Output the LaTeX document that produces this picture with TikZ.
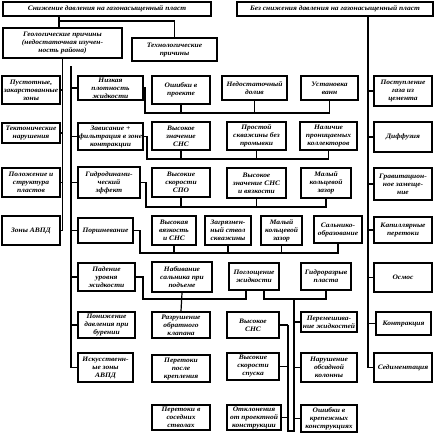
\documentclass[tikz,border=0pt]{standalone}
\usepackage{fontspec}
\setmainfont{Liberation Serif}[FakeStretch=1.1]
\newcommand\nbox[6]{\node[box,minimum width={#3pt-#2pt},minimum height={#5pt-#4pt}] (#1) at ({(#2+#3)/2},{(#4+#5)/2}) {#6};}
\begin{document}
\begin{tikzpicture}[x=1pt,y=-1pt,
 box/.style={draw,line width=1.8pt,fill=white,inner sep=0pt,align=center,font=\bfseries\itshape\fontsize{6.8}{8}\selectfont},
 ln/.style={line width=1.2pt}]
\useasboundingbox[fill=white] (0,0) rectangle (434,434);
% top level
\nbox{top}{3}{211}{2}{16}{Снижение давления на газонасыщенный пласт}
\nbox{topR}{237}{433}{2}{16}{Без снижения давления на газонасыщенный пласт}
\nbox{geo}{3}{122}{28}{58}{Геологические причины\\(недостаточная изучен-\\ность района)}
\nbox{tech}{132}{217}{38}{61}{Технологические\\причины}
% geological column
\nbox{g1}{2}{60}{76}{104}{Пустотные,\\закарстованные\\зоны}
\nbox{g2}{2}{60}{123}{143}{Тектонические\\нарушения}
\nbox{g3}{2}{60}{168}{197}{Положение и\\структура\\пластов}
\nbox{g4}{2}{60}{216}{245}{Зоны АВПД}
% technological column
\nbox{t1}{78}{143}{76}{100}{Низкая\\плотность\\жидкости}
\nbox{t2}{78}{143}{123}{150}{Зависание +\\фильтрация в зоне\\контракции}
\nbox{t3}{78}{140}{167}{198}{Гидродинами-\\ческий\\эффект}
\nbox{t4}{78}{133}{218}{243}{Поршневание}
\nbox{t5}{78}{135}{263}{291}{Падение\\уровня\\жидкости}
\nbox{t6}{78}{135}{312}{338}{Понижение\\давления при\\бурении}
\nbox{t7}{78}{133}{353}{382}{Искусственн-\\ые зоны\\АВПД}
% column 2
\nbox{c1}{152}{210}{76}{104}{Ошибки в\\проекте}
\nbox{c2}{152}{210}{122}{150}{Высокое\\значение\\СНС}
\nbox{c3}{152}{210}{168}{197}{Высокие\\скорости\\СПО}
\nbox{c4}{152}{196}{216}{245}{Высокая\\вязкость\\и СНС}
\nbox{c5}{152}{212}{262}{292}{Набивание\\сальника при\\подъеме}
\nbox{c6}{152}{210}{312}{338}{Разрушение\\обратного\\клапана}
\nbox{c7}{152}{210}{355}{382}{Перетоки\\после\\крепления}
\nbox{c8}{152}{210}{405}{430}{Перетоки в\\соседних\\стволах}
% column 3
\nbox{d1}{222}{287}{76}{100}{Недостаточный\\долив}
\nbox{d2}{227}{286}{122}{150}{Простой\\скважины без\\промывки}
\nbox{d3}{227}{286}{168}{198}{Высокое\\значение СНС\\и вязкости}
\nbox{d4}{205}{251}{216}{245}{Загрязнен-\\ный ствол\\скважины}
\nbox{d5}{261}{302}{216}{245}{Малый\\кольцевой\\зазор}
\nbox{d6}{314}{362}{216}{243}{Сальнико-\\образование}
\nbox{d7}{229}{279}{263}{290}{Поглощение\\жидкости}
\nbox{d8}{301}{351}{263}{290}{Гидроразрыв\\пласта}
% column 4
\nbox{e1}{301}{358}{76}{100}{Установка\\ванн}
\nbox{e2}{300}{357}{122}{150}{Наличие\\проницаемых\\коллекторов}
\nbox{e3}{301}{351}{168}{198}{Малый\\кольцевой\\зазор}
% lower middle
\nbox{f1}{227}{279}{312}{338}{Высокое\\СНС}
\nbox{f2}{227}{279}{353}{380}{Высокие\\скорости\\спуска}
\nbox{f3}{227}{281}{405}{430}{Отклонения\\от проектной\\конструкции}
\nbox{f4}{301}{357}{312}{332}{Перемешива-\\ние жидкостей}
\nbox{f5}{301}{357}{353}{382}{Нарушение\\обсадной\\колонны}
\nbox{f6}{301}{357}{405}{432}{Ошибки в\\крепежных\\конструкциях}
% right column
\nbox{r1}{374}{432}{76}{106}{Поступление\\газа из\\цемента}
\nbox{r2}{374}{432}{122}{152}{Диффузия}
\nbox{r3}{374}{432}{168}{200}{Гравитацион-\\ное замеще-\\ние}
\nbox{r4}{374}{432}{217}{243}{Капиллярные\\перетоки}
\nbox{r5}{374}{432}{263}{292}{Осмос}
\nbox{r6}{376}{431}{312}{335}{Контракция}
\nbox{r7}{374}{432}{353}{382}{Седиментация}
% top connectors
\coordinate (j1) at (59,21);
\draw[ln] (top.south -| j1) -- (geo.north -| j1);
\draw[ln] (j1) -| (tech.north);
% right trunk
\coordinate (rt) at (368,16);
\draw[ln] (topR.south -| rt) |- (r7.west);
\foreach \n in {r1,r2,r3,r4,r5,r6} {\draw[ln] (\n.west -| rt) -- (\n.west);}
% geological trunk
\draw[ln] (geo.south) |- (g4.east);
\foreach \n in {g1,g2,g3} {\draw[ln] (\n.east) -- (\n.east -| geo.south);}
% technological trunk
\coordinate (tt) at (71,66);
\draw[ln] (tt) |- (t7.west);
\foreach \n in {t1,t2,t3,t4,t5,t6} {\draw[ln] (\n.west -| tt) -- (\n.west);}
% row buses
\coordinate (b1) at (145,113);
\draw[ln] (t1.east) -| (b1) -| (e1.south);
\draw[ln] (c1.south) -- (c1.south |- b1);
\draw[ln] (d1.south) -- (d1.south |- b1);
\coordinate (b2) at (147,159);
\draw[ln] (t2.east) -| (b2) -| (e2.south);
\draw[ln] (c2.south) -- (c2.south |- b2);
\draw[ln] (d2.south) -- (d2.south |- b2);
\coordinate (b3) at (146,207);
\draw[ln] (t3.east) -| (b3) -| (e3.south);
\draw[ln] (c3.south) -- (c3.south |- b3);
\draw[ln] (d3.south) -- (d3.south |- b3);
\coordinate (b4) at (140,253);
\draw[ln] (t4.east) -| (b4) -| (d6.south);
\draw[ln] (c4.south) -- (c4.south |- b4);
\draw[ln] (d4.south) -- (d4.south |- b4);
\draw[ln] (d5.south) -- (d5.south |- b4);
\coordinate (b5) at (143,299);
\coordinate (q2) at (246,299);
\draw[ln] (t5.east) -| (b5) -- (q2) -- (q2 |- d7.south);
\draw[ln] (c5.south) -- (c6.north);
\coordinate (q1) at (264,299);
\draw[ln] (q1 |- d7.south) -- (q1) -| (d8.south);
\coordinate (v1) at (294,299);
\coordinate (v2) at (294,431);
\coordinate (v3) at (288,431);
\draw[ln] (v1) -- (v2) -- (v3) -- (v3 |- f1.east);
\foreach \n in {f1,f2,f3} {\draw[ln] (\n.east) -- (\n.east -| v3);}
\foreach \n in {f4,f5,f6} {\draw[ln] (\n.west) -- (\n.west -| v1);}
\end{tikzpicture}
\end{document}
